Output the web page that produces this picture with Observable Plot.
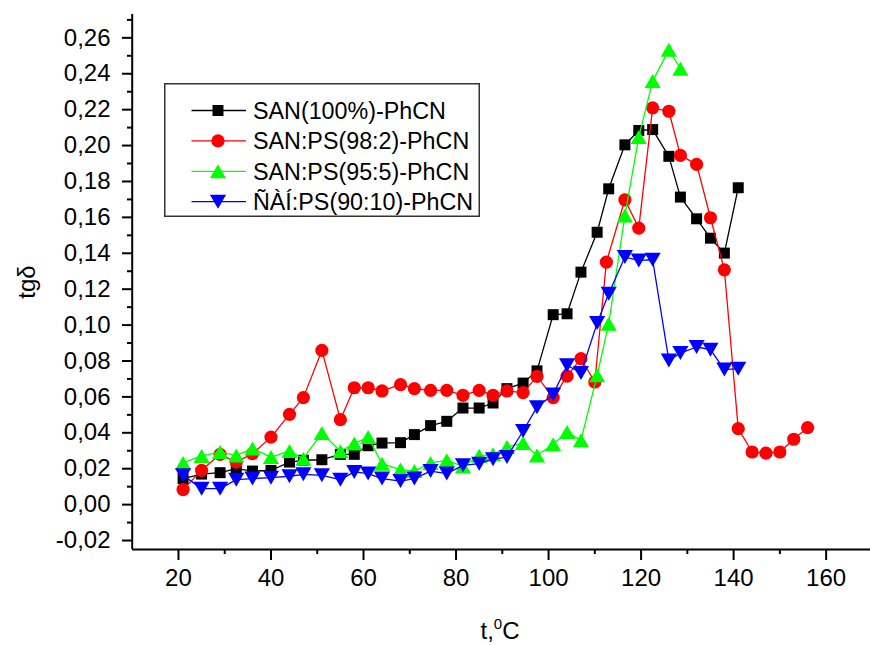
<!DOCTYPE html>
<html>
<head>
<meta charset="utf-8">
<script src="https://cdn.jsdelivr.net/npm/d3@7"></script>
<script src="https://cdn.jsdelivr.net/npm/@observablehq/plot@0.6"></script>
<style>
  body { margin: 0; background: #fff; }
  #chart { position: relative; width: 870px; height: 645px; font-family: "Liberation Sans", Arial, sans-serif; }
  #chart svg { display: block; }
  #legend { position: absolute; left: 164px; top: 83px; }
</style>
</head>
<body>
<div id="chart"></div>
<script>
// Series names and colours
const seriesNames = ["SAN(100%)-PhCN", "SAN:PS(98:2)-PhCN", "SAN:PS(95:5)-PhCN", "ÑÀÍ:PS(90:10)-PhCN"];
const seriesColors = ["#000000", "#ff0000", "#00ff00", "#0000ff"];

// SAN(100%)-PhCN: temperature (°C) and tg δ
const tBlack = [21, 25, 29, 32.5, 36, 40, 44, 47, 51, 55, 58, 61, 64, 68, 71, 74.5, 78, 81.5, 85, 88,
                91, 94.5, 97.5, 101, 104, 107, 110.5, 113, 116.5, 119.5, 122.5, 126, 128.5, 132, 135, 138, 141];
const vBlack = [0.0145, 0.017, 0.0178, 0.020, 0.0187, 0.019, 0.0237, 0.0247, 0.025, 0.028, 0.028, 0.0328, 0.0343, 0.0345, 0.039, 0.044, 0.0464, 0.0538, 0.0538, 0.0566,
                0.0646, 0.0677, 0.0745, 0.1058, 0.1063, 0.1295, 0.1517, 0.1759, 0.2004, 0.2084, 0.2089, 0.194, 0.1713, 0.1592, 0.1484, 0.1401, 0.1765];

// SAN:PS(98:2)-PhCN
const tRed = [21, 25, 29, 32.5, 36, 40, 44, 47, 51, 55, 58, 61, 64, 68, 71, 74.5, 78, 81.5, 85, 88,
              91, 94.5, 97.5, 101, 104, 107, 110, 112.5, 116.5, 119.5, 122.5, 126, 128.5, 132, 135, 138, 141, 144, 147, 150, 153, 156];
const vRed = [0.0084, 0.0191, 0.028, 0.0237, 0.0284, 0.0376, 0.0503, 0.0596, 0.0859, 0.0473, 0.0651, 0.0651, 0.0633, 0.0668, 0.0646, 0.0636, 0.0636, 0.0609, 0.0636, 0.0609,
              0.0633, 0.0624, 0.0714, 0.0596, 0.0716, 0.0813, 0.0683, 0.1351, 0.1698, 0.154, 0.221, 0.2191, 0.1945, 0.1895, 0.1598, 0.1308, 0.0423, 0.0293, 0.0287, 0.0293, 0.0364, 0.0429];

// SAN:PS(95:5)-PhCN
const tGreen = [21, 25, 29, 32.5, 36, 40, 44, 47, 51, 55, 58, 61, 64, 68, 71, 74.5, 78, 81.5, 85, 88,
                91, 94.5, 97.5, 101, 104, 107, 110.5, 113, 116.5, 119.5, 122.5, 126, 128.5];
const vGreen = [0.0232, 0.0271, 0.0293, 0.0274, 0.0312, 0.0265, 0.0298, 0.0256, 0.0399, 0.0297, 0.034, 0.0376, 0.0228, 0.0195, 0.0187, 0.0232, 0.0247, 0.0213, 0.0272, 0.028,
                0.0321, 0.0343, 0.0274, 0.0336, 0.0404, 0.0358, 0.072, 0.1008, 0.161, 0.2047, 0.2359, 0.2533, 0.2428];

// ÑÀÍ:PS(90:10)-PhCN
const tBlue = [21, 25, 29, 32.5, 36, 40, 44, 47, 51, 55, 58, 61, 64, 68, 71, 74.5, 78, 81.5, 85, 88,
               91, 94.5, 97.5, 101, 104, 107, 110.5, 113, 116.5, 119.5, 122.5, 126, 128.5, 132, 135, 138, 141];
const vBlue = [0.0163, 0.0089, 0.0089, 0.0139, 0.0145, 0.015, 0.0158, 0.0169, 0.0163, 0.0139, 0.0182, 0.0173, 0.0145, 0.0131, 0.0145, 0.0187, 0.0173, 0.0219, 0.0228, 0.0253,
               0.0265, 0.041, 0.0543, 0.0614, 0.0776, 0.0733, 0.1011, 0.1175, 0.1379, 0.136, 0.1364, 0.0803, 0.0844, 0.0878, 0.0863, 0.0752, 0.0757];

// Axis ticks
const xTicks = [20, 40, 60, 80, 100, 120, 140, 160];
const xMinorTicks = [30, 50, 70, 90, 110, 130, 150, 170];
const yTicks = [-0.02, 0.00, 0.02, 0.04, 0.06, 0.08, 0.10, 0.12, 0.14, 0.16, 0.18, 0.20, 0.22, 0.24, 0.26];
const yMinorTicks = [-0.01, 0.01, 0.03, 0.05, 0.07, 0.09, 0.11, 0.13, 0.15, 0.17, 0.19, 0.21, 0.23, 0.25, 0.27];

const xDomain = [10, 170];
const yDomain = [-0.025, 0.273];

// Triangles centred on their bounding box (up and down)
function triangle(dir) {
  return {
    draw(context, size) {
      const a = Math.sqrt(4 * size / Math.sqrt(3));
      const h = a * Math.sqrt(3) / 2;
      context.moveTo(0, -dir * h / 2);
      context.lineTo(-a / 2, dir * h / 2);
      context.lineTo(a / 2, dir * h / 2);
      context.closePath();
    }
  };
}
const seriesSymbols = [d3.symbolSquare, d3.symbolCircle, triangle(1), triangle(-1)];
const seriesR = [6.2, 6.6, 6.0, 6.0];

const seriesData = [[tBlack, vBlack], [tRed, vRed], [tGreen, vGreen], [tBlue, vBlue]]
  .map(([ts, vs], i) => ts.map((t, j) => ({t, v: vs[j], series: seriesNames[i]})));

const fmtY = d => d.toFixed(2).replace(".", ",");

const seriesMarks = seriesData.flatMap((rows, i) => [
  Plot.line(rows, {x: "t", y: "v", stroke: seriesColors[i], strokeWidth: 1.3}),
  Plot.dot(rows, {x: "t", y: "v", fill: seriesColors[i], r: seriesR[i], symbol: seriesSymbols[i]})
]);

const chart = Plot.plot({
  width: 870,
  height: 645,
  marginLeft: 132,
  marginRight: 0,
  marginTop: 14,
  marginBottom: 96,
  style: {fontFamily: "'Liberation Sans', Arial, sans-serif", fontSize: "24px", color: "#000", background: "#fff", overflow: "visible"},
  x: {domain: xDomain, range: [131.7, 871.9]},
  y: {domain: yDomain},
  marks: [
    Plot.axisY(yMinorTicks, {tickSize: 5, tickFormat: () => "", strokeWidth: 2, label: null}),
    Plot.axisY(yTicks, {tickSize: 10, tickPadding: 12, tickFormat: fmtY, fontSize: 24, strokeWidth: 2, label: null}),
    Plot.axisX(xMinorTicks, {tickSize: 5, tickFormat: () => "", strokeWidth: 2, label: null}),
    Plot.axisX(xTicks, {tickSize: 11, tickPadding: 8, tickFormat: d => String(d), fontSize: 24, strokeWidth: 2, label: null}),
    Plot.ruleX([xDomain[0]], {strokeWidth: 2}),
    Plot.ruleY([yDomain[0]], {strokeWidth: 2}),
    ...seriesMarks
  ]
});

const container = document.getElementById("chart");
container.appendChild(chart);

// Axis titles
const svg = d3.select(chart);
svg.append("text")
  .attr("transform", "translate(35,282) rotate(-90)")
  .attr("text-anchor", "middle")
  .attr("font-size", 24)
  .attr("fill", "#000")
  .text("tgδ");

const xl = svg.append("text")
  .attr("x", 500)
  .attr("y", 639)
  .attr("text-anchor", "middle")
  .attr("font-size", 24)
  .attr("fill", "#000");
xl.append("tspan").text("t,");
xl.append("tspan").attr("dy", -10).attr("font-size", 15).text("0");
xl.append("tspan").attr("dy", 10).text("C");

// Legend box
const legendW = 316, legendH = 134, rowGap = 30.4;
const legend = d3.select(container).append("svg")
  .attr("id", "legend")
  .attr("width", legendW)
  .attr("height", legendH);
legend.append("rect")
  .attr("x", 0.75).attr("y", 0.75)
  .attr("width", legendW - 1.5).attr("height", legendH - 1.5)
  .attr("fill", "#fff").attr("stroke", "#333").attr("stroke-width", 1.5);
seriesNames.forEach((name, i) => {
  const y = 27.5 + i * rowGap;
  const g = legend.append("g");
  g.append("line").attr("x1", 27.5).attr("x2", 82).attr("y1", y).attr("y2", y)
    .attr("stroke", seriesColors[i]).attr("stroke-width", 1.3);
  g.append("path")
    .attr("transform", `translate(54,${y})`)
    .attr("d", d3.symbol(seriesSymbols[i], Math.PI * seriesR[i] * seriesR[i])())
    .attr("fill", seriesColors[i]);
  g.append("text").attr("x", 89).attr("y", y).attr("dy", "0.36em")
    .attr("font-size", 23.3).attr("fill", "#000")
    .attr("font-family", "'Liberation Sans', Arial, sans-serif")
    .text(name);
});
</script>
</body>
</html>
